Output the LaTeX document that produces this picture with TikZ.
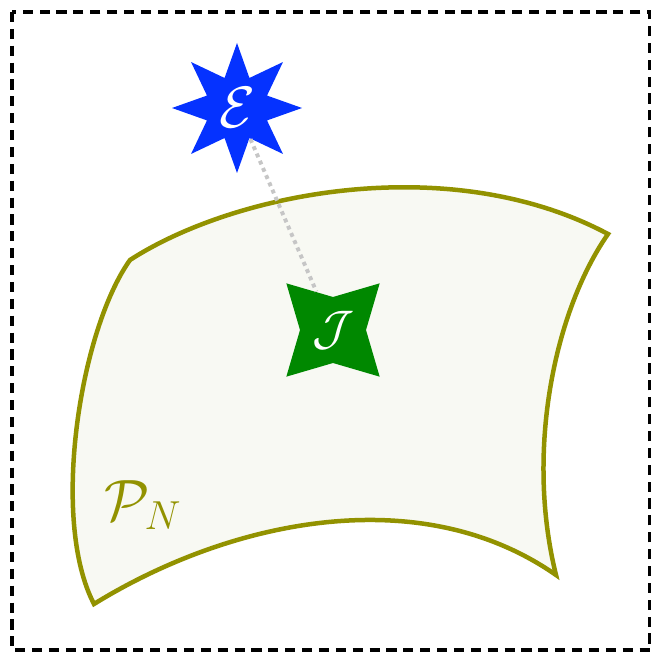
\documentclass[tikz,border=0pt]{standalone}
\usepackage{amsmath,amssymb}
\usepackage{xcolor}
\usepackage{tikz}
\usetikzlibrary{shapes.geometric,backgrounds}
\definecolor{patchline}{RGB}{146,146,0}
\definecolor{patchfill}{RGB}{248,249,243}
\definecolor{expblue}{RGB}{5,50,255}
\definecolor{idgreen}{RGB}{0,136,0}

\begin{document}
\begin{tikzpicture}[x=0.0125cm, y=-0.0125cm,
  startag/.style={star, star point ratio=2, inner sep=0pt, text=white, font=\huge},
  linkline/.style={gray!45, line width=1.4pt, dash pattern=on 1.4pt off 1.4pt}]

\useasboundingbox (0,0) rectangle (651,653);

% ==========================================
% Outer Frame
% ==========================================
\draw[black, line width=1.4pt, dash pattern=on 3.6pt off 2.4pt] (12,12) rectangle (650,650);

% ==========================================
% Curved Patch
% ==========================================
\draw[patchline, fill=patchfill, line width=1.6pt, line join=miter]
  (130,260) .. controls (235,192) and (450,150) .. (608,234)
            .. controls (555,310) and (525,450) .. (556,575)
            .. controls (420,480) and (230,520) .. (94,604)
            .. controls (50,520) and (80,330) .. (130,260) -- cycle;

% Patch label
\node[patchline, font=\huge] (pn) at (143,505) {$\mathcal{P}_N$};

% ==========================================
% Points
% ==========================================
\node[startag, star points=8, fill=expblue, minimum size=130*0.0125cm] (E) at (237,108) {$\mathcal{E}$};
\node[startag, star points=4, shape border rotate=45, fill=idgreen, font=\LARGE, minimum size=132*0.0125cm] (J) at (333,330) {$\mathcal{J}$};

% Link between them
\draw[linkline] (E) -- (J);

\end{tikzpicture}
\end{document}
